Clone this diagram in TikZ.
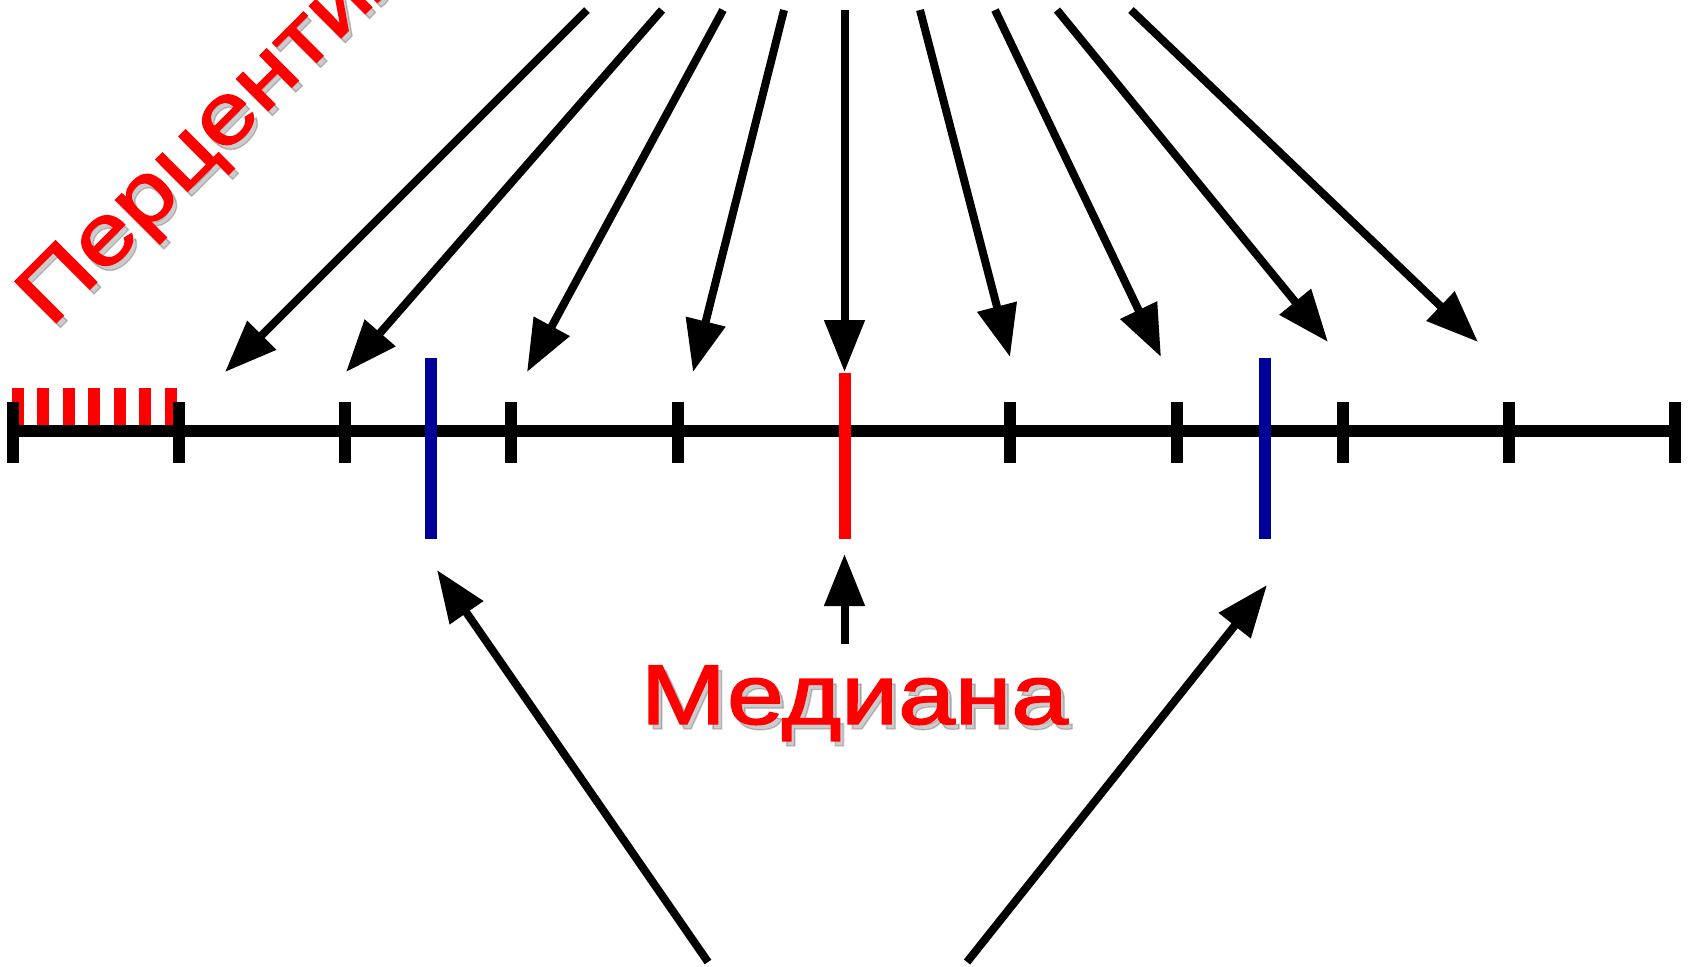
\documentclass[tikz,border=0pt]{standalone}
\usepackage{fontspec}
\setmainfont{Liberation Sans}
\newfontfamily\lblfont[FakeBold=1.6]{Liberation Sans}
\usepackage{tikz}
\usetikzlibrary{arrows.meta}
\definecolor{rcol}{HTML}{FF0000}
\definecolor{bcol}{HTML}{000099}
\tikzset{
  lbl/.style={text=rcol, font=\lblfont\fontsize{24.2}{29}\selectfont, inner sep=0pt, xscale=1.2},
  lblshadow/.style={lbl, text=black, opacity=0.2},
  ptr/.style={->, line width=0.8mm},
  tick/.style={line width=1.15mm},
  bar/.style={line width=1.2mm}
}

\begin{document}
\begin{tikzpicture}[scale=1, >={Triangle[length=5.2mm, width=3.9mm]}]
\useasboundingbox (0,0) rectangle (16.89,-9.66);
\clip (0,0) rectangle (16.89,-9.66);
% red marks in the first interval
\draw[bar, rcol] (0.180,-3.880) -- (0.180,-4.310);
\draw[bar, rcol] (0.434,-3.880) -- (0.434,-4.310);
\draw[bar, rcol] (0.688,-3.880) -- (0.688,-4.310);
\draw[bar, rcol] (0.942,-3.880) -- (0.942,-4.310);
\draw[bar, rcol] (1.196,-3.880) -- (1.196,-4.310);
\draw[bar, rcol] (1.450,-3.880) -- (1.450,-4.310);
\draw[bar, rcol] (1.705,-3.880) -- (1.705,-4.310);
% axis and ticks
\draw[tick] (0.130,-4.310) -- (16.750,-4.310);
\draw[tick] (0.130,-4.020) -- (0.130,-4.630);
\draw[tick] (1.790,-4.020) -- (1.790,-4.630);
\draw[tick] (3.450,-4.020) -- (3.450,-4.630);
\draw[tick] (5.110,-4.020) -- (5.110,-4.630);
\draw[tick] (6.780,-4.020) -- (6.780,-4.630);
\draw[tick] (10.100,-4.020) -- (10.100,-4.630);
\draw[tick] (11.770,-4.020) -- (11.770,-4.630);
\draw[tick] (13.430,-4.020) -- (13.430,-4.630);
\draw[tick] (15.090,-4.020) -- (15.090,-4.630);
\draw[tick] (16.750,-4.020) -- (16.750,-4.630);
% quartiles and median
\draw[bar, bcol] (4.310,-3.575) -- (4.310,-5.387);
\draw[bar, bcol] (12.650,-3.575) -- (12.650,-5.387);
\draw[bar, rcol] (8.445,-3.725) -- (8.445,-5.387);
% arrows from the top
\coordinate (a1) at (5.870,-0.100); \coordinate (b1) at (2.250,-3.720);
\coordinate (a2) at (6.620,-0.100); \coordinate (b2) at (3.460,-3.720);
\coordinate (a3) at (7.230,-0.100); \coordinate (b3) at (5.270,-3.720);
\coordinate (a4) at (7.840,-0.100); \coordinate (b4) at (6.930,-3.720);
\coordinate (a5) at (8.445,-0.100); \coordinate (b5) at (8.445,-3.720);
\coordinate (a6) at (9.200,-0.100); \coordinate (b6) at (10.100,-3.570);
\coordinate (a7) at (9.950,-0.100); \coordinate (b7) at (11.610,-3.570);
\coordinate (a8) at (10.570,-0.100); \coordinate (b8) at (13.280,-3.420);
\coordinate (a9) at (11.310,-0.100); \coordinate (b9) at (14.780,-3.420);
\draw[ptr] (a1) -- (b1);
\draw[ptr] (a2) -- (b2);
\draw[ptr] (a3) -- (b3);
\draw[ptr] (a4) -- (b4);
\draw[ptr] (a5) -- (b5);
\draw[ptr] (a6) -- (b6);
\draw[ptr] (a7) -- (b7);
\draw[ptr] (a8) -- (b8);
\draw[ptr] (a9) -- (b9);
% arrows from below
\coordinate (m1) at (8.445,-6.440); \coordinate (m2) at (8.445,-5.540);
\coordinate (c1) at (7.080,-9.620); \coordinate (d1) at (4.370,-5.700);
\coordinate (c2) at (9.670,-9.620); \coordinate (d2) at (12.670,-5.850);
\draw[ptr] (m1) -- (m2);
\draw[ptr] (c1) -- (d1);
\draw[ptr] (c2) -- (d2);
% labels
\node[lblshadow, anchor=base] (medshadow) at (8.585,-7.290) {Медиана};
\node[lbl, anchor=base] (median) at (8.545,-7.240) {Медиана};
\node[rotate=45, lblshadow, anchor=base west] (percshadow) at (0.540,-3.340) {Перцентили};
\node[rotate=45, lbl, anchor=base west] (perc) at (0.500,-3.290) {Перцентили};
\end{tikzpicture}
\end{document}
